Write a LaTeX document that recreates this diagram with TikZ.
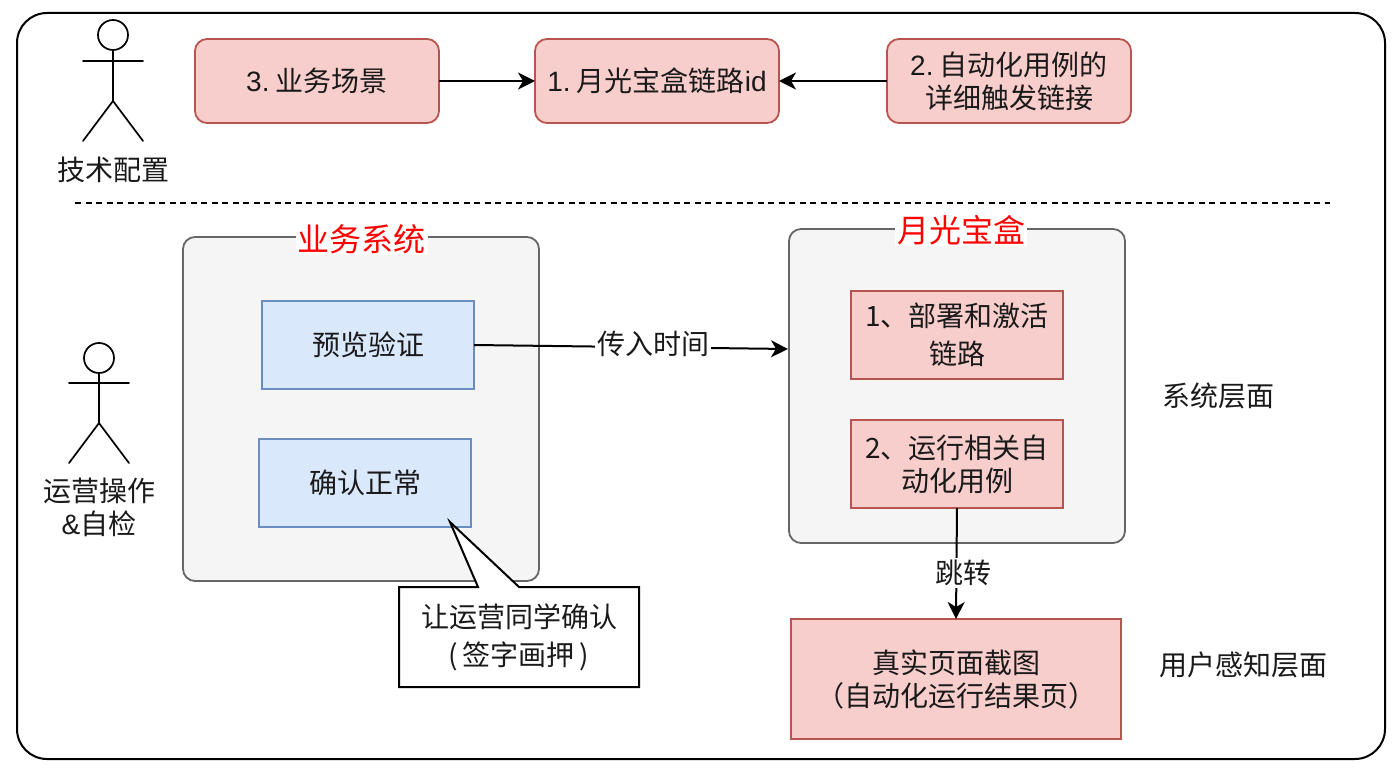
\documentclass[tikz,border=0pt]{standalone}
\usepackage{fontspec}
\setmainfont{Noto Sans CJK SC}
\newfontfamily\lat{Liberation Sans}
\usetikzlibrary{arrows.meta}
\definecolor{redfill}{HTML}{F8CECC}
\definecolor{redline}{HTML}{B85450}
\definecolor{bluefill}{HTML}{DAE8FC}
\definecolor{blueline}{HTML}{6C8EBF}
\definecolor{grayfill}{HTML}{F5F5F5}
\definecolor{grayline}{HTML}{666666}
\definecolor{ink}{HTML}{1A1A1A}
\newcommand{\fs}[2]{\fontsize{#1}{#2}\selectfont}
\newcommand{\la}[1]{\mbox{\lat #1}}
\tikzset{
  base/.style={inner sep=0pt,outer sep=0pt,align=center,text=ink,font=\fs{28}{33}},
  topbox/.style={base,draw=redline,fill=redfill,line width=1.8pt,rounded corners=12pt,minimum width=244pt,minimum height=84pt},
  redbox/.style={base,draw=redline,fill=redfill,line width=1.8pt},
  bluebox/.style={base,draw=blueline,fill=bluefill,line width=1.6pt,minimum width=212pt,minimum height=88pt},
  panel/.style={draw=grayline,fill=grayfill,line width=1.8pt,rounded corners=12pt,inner sep=0pt,outer sep=0pt},
  paneltitle/.style={base,fill=white,text=red,font=\fs{32}{32},inner xsep=2pt,inner ysep=1pt},
  lbl/.style={base},
  edgelbl/.style={base,fill=white,inner xsep=2pt,inner ysep=2pt},
  conn/.style={draw=black,line width=2pt,-{Stealth[length=17pt,width=17pt,inset=5pt]}},
  stick/.style={draw=black,line width=1.7pt,line cap=round},
}
\begin{document}
\begin{tikzpicture}[x=1pt,y=-1pt]
\useasboundingbox (0,0) rectangle (1398,770);
\fill[white] (0,0) rectangle (1398,770);
\node[draw=black,line width=2pt,rounded corners=30pt,minimum width=1368pt,minimum height=746pt,inner sep=0pt] (frame) at (701,386) {};

% top row
\node[topbox] (scene) at (317,81) {\la{3.} 业务场景};
\node[topbox] (link) at (657,81) {\la{1.} 月光宝盒链路\la{id}};
\node[topbox] (auto) at (1009,81) {\la{2.} 自动化用例的\\详细触发链接};
\draw[conn] (scene) -- (link);
\draw[conn] (auto) -- (link);

% actor 1
\node[draw=black,circle,line width=1.7pt,minimum size=30pt,inner sep=0pt] (head1) at (113,35) {};
\coordinate (hip1) at (113,101);
\coordinate (armL1) at (83,61);
\coordinate (armR1) at (143,61);
\coordinate (legL1) at (83,141);
\coordinate (legR1) at (143,141);
\draw[stick] (head1.south) -- (hip1);
\draw[stick] (armL1) -- (armR1);
\draw[stick] (legL1) -- (hip1) -- (legR1);
\node[lbl] (tech) at (113,170) {技术配置};

% dashed separator
\coordinate (dashL) at (75,203);
\coordinate (dashR) at (1330,203);
\draw[black,line width=1.5pt,dash pattern=on 6pt off 4.5pt] (dashL) -- (dashR);

% actor 2
\node[draw=black,circle,line width=1.7pt,minimum size=30pt,inner sep=0pt] (head2) at (99,358) {};
\coordinate (hip2) at (99,423);
\coordinate (armL2) at (69,383);
\coordinate (armR2) at (129,383);
\coordinate (legL2) at (69,463);
\coordinate (legR2) at (129,463);
\draw[stick] (head2.south) -- (hip2);
\draw[stick] (armL2) -- (armR2);
\draw[stick] (legL2) -- (hip2) -- (legR2);
\node[lbl] (ops) at (99,507) {运营操作\\\la{\&}自检};

% panels
\node[panel,minimum width=356pt,minimum height=344pt] (biz) at (361,409) {};
\node[paneltitle] (biztitle) at (361.5,239) {业务系统};
\node[panel,minimum width=336pt,minimum height=314pt] (moon) at (957,386) {};
\node[paneltitle] (moontitle) at (961,230) {月光宝盒};

% inner boxes
\node[bluebox] (preview) at (368,345) {预览验证};
\node[bluebox] (confirm) at (365,483) {确认正常};
\node[redbox,minimum width=212pt,minimum height=88pt,font=\fs{28}{38}] (deploy) at (957,335) {1、部署和激活\\链路};
\node[redbox,minimum width=212pt,minimum height=88pt] (run) at (957,464) {2、运行相关自\\动化用例};
\node[redbox,minimum width=330pt,minimum height=120pt] (shot) at (956,679) {真实页面截图\\（自动化运行结果页）};

% connectors
\coordinate (moonin) at (788,349);
\draw[conn] (preview.east) -- (moonin);
\node[edgelbl] (timelbl) at (653,344) {传入时间};
\draw[conn] (run.south) -- (shot.north);
\node[edgelbl] (jump) at (963,573) {跳转};

% callout
\coordinate (tip) at (450,522);
\draw[black,line width=2pt,fill=white,line join=miter]
  (399,587) -- (478,587) -- (tip) -- (519,587) -- (639,587) -- (639,687) -- (399,687) -- cycle;
\node[lbl,font=\fs{28}{38}] (note) at (519,637) {让运营同学确认\\(\,签字画押\,)};

% side labels
\node[lbl] (syslayer) at (1218,396) {系统层面};
\node[lbl] (userlayer) at (1243,665) {用户感知层面};
\end{tikzpicture}
\end{document}
